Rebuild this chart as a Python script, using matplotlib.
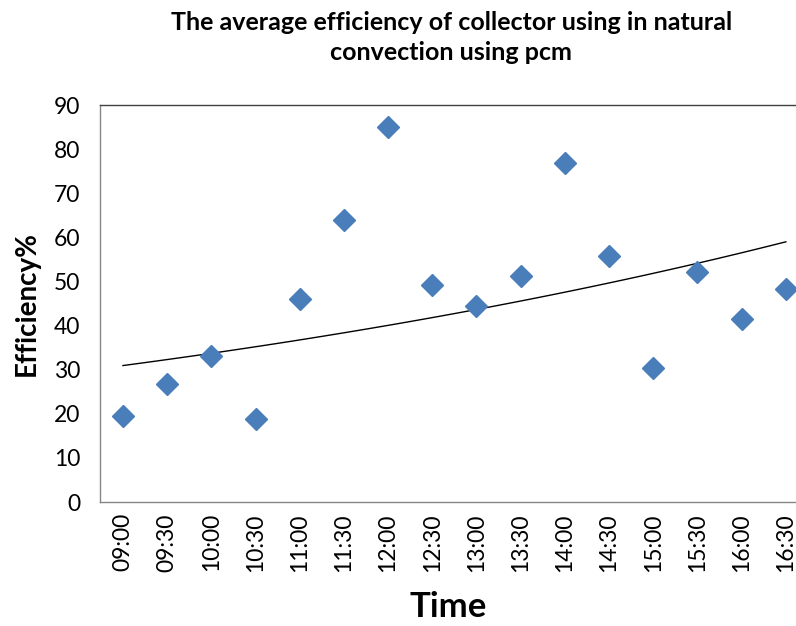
import numpy as np
import matplotlib
matplotlib.use("Agg")
import matplotlib.pyplot as plt

times = ["09:00", "09:30", "10:00", "10:30", "11:00", "11:30", "12:00", "12:30",
         "13:00", "13:30", "14:00", "14:30", "15:00", "15:30", "16:00", "16:30"]
efficiency = [19.5, 26.8, 33.1, 18.8, 46.0, 64.0, 85.0, 49.2,
              44.4, 51.3, 76.8, 55.8, 30.3, 52.1, 41.6, 48.3]

plt.rcParams['font.family'] = ['Lato', 'DejaVu Sans']

fig = plt.figure(figsize=(7.96, 6.26), dpi=100)
ax = fig.add_axes([0.1256, 0.198, 0.8744, 0.634])

x = np.arange(len(times))
y = np.array(efficiency)

# exponential trendline, fitted like Excel does (linear fit on ln y)
b, a = np.polyfit(x, np.log(y), 1)
xt = np.linspace(x[0], x[-1], 100)
ax.plot(xt, np.exp(a) * np.exp(b * xt), color="black", lw=1.0, zorder=2)

ax.plot(x, y, linestyle="none", marker="D", ms=11, color="#4A7EBB",
        markeredgecolor="#4A7EBB", zorder=3, clip_on=False)

ax.set_xlim(-0.52, 15.23)
ax.set_ylim(0, 90)
ax.set_yticks(range(0, 91, 10))
ax.set_xticks(x)
ax.set_xticklabels(times, rotation=90)
ax.tick_params(axis="both", length=0, labelsize=16.5, pad=8)
ax.tick_params(axis="y", pad=14)

for side in ["left", "bottom", "top", "right"]:
    ax.spines[side].set_color("#868686")
    ax.spines[side].set_linewidth(1.0)
ax.spines["top"].set_color("#404040")
ax.spines["right"].set_visible(False)

ax.set_ylabel("Efficiency%", fontsize=20, fontweight="bold", labelpad=10)
ax.set_xlabel("Time", fontsize=25, fontweight="bold", labelpad=14)

fig.text(0.567, 0.94, "The average efficiency of collector using in natural\nconvection using pcm",
         ha="center", va="center", fontsize=18, fontweight="bold", linespacing=1.4)

fig.savefig("out.png", dpi=100)
